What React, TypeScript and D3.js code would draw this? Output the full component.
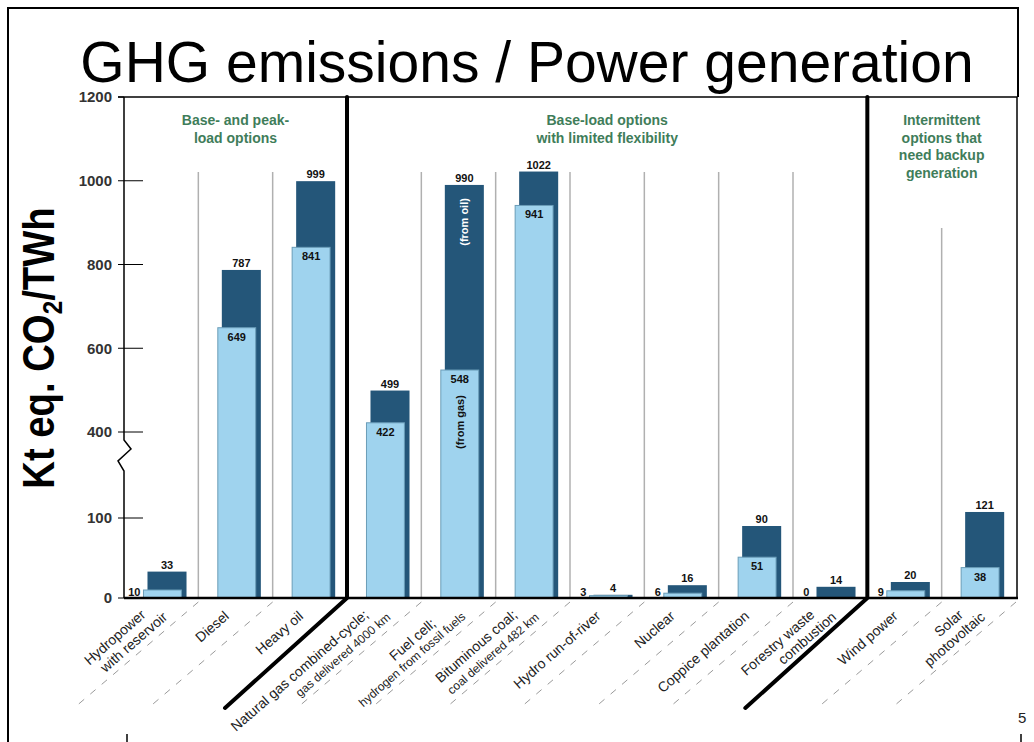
import * as d3 from 'd3'

// GHG emissions per power generation option (kt eq. CO2 / TWh)
const categories = [
  'Hydropower with reservoir',
  'Diesel',
  'Heavy oil',
  'Natural gas combined-cycle',
  'Fuel cell',
  'Bituminous coal',
  'Hydro run-of-river',
  'Nuclear',
  'Coppice plantation',
  'Forestry waste combustion',
  'Wind power',
  'Solar photovoltaic'
]
const lowValues = [10, 649, 841, 422, 548, 941, 3, 6, 51, 0, 9, 38]
const highValues = [33, 787, 999, 499, 990, 1022, 4, 16, 90, 14, 20, 121]

const xLabels = [
  ['Hydropower', 'with reservoir'],
  ['Diesel'],
  ['Heavy oil'],
  ['Natural gas combined-cycle;', 'gas delivered 4000 km'],
  ['Fuel cell;', 'hydrogen from fossil fuels'],
  ['Bituminous coal;', 'coal delivered 482 km'],
  ['Hydro run-of-river'],
  ['Nuclear'],
  ['Coppice plantation'],
  ['Forestry waste', 'combustion'],
  ['Wind power'],
  ['Solar', 'photovoltaic']
]
const smallSecondLine = [3, 4, 5]

const groupTitles = [
  ['Base- and peak-', 'load options'],
  ['Base-load options', 'with limited flexibility'],
  ['Intermittent', 'options that', 'need backup', 'generation']
]
const groupSpans = [[0, 3], [3, 10], [10, 12]]

const yTicks = [0, 100, 400, 600, 800, 1000, 1200]

const FONT = '"Liberation Sans", Arial, Helvetica, sans-serif'
const NARROW = '"Liberation Sans Narrow", "Arial Narrow", "Liberation Sans", Arial, sans-serif'
const DARK = '#245679'
const LIGHT = '#9fd3ee'
const GREEN = '#3f7d5a'

export default function App() {
  const width = 1034
  const height = 742
  const plotLeft = 124
  const plotRight = 1016
  const plotTop = 97
  const baseY = 598

  const x = d3.scaleBand().domain(categories).range([plotLeft, plotRight]).padding(0)
  // broken axis: 0-100 and 400-1200 with a compressed gap between
  const y = d3.scaleLinear().domain([0, 100, 400, 1200]).range([baseY, 518, 432, plotTop])
  const bw = x.bandwidth()

  const darkX = (i: number) => (x(categories[i]) as number) + bw * 0.316
  const darkW = bw * 0.525
  const lightX = (i: number) => (x(categories[i]) as number) + bw * 0.262
  const lightW = bw * 0.51

  const thick = [3, 10]
  const diag = [-122, 106]
  const ang = -41

  const breakY = y(400) + 8
  const axisPath = `M${plotLeft},${plotTop} V${breakY} L${plotLeft + 7},${breakY + 9} L${plotLeft - 6},${breakY + 21} L${plotLeft},${breakY + 31} V${baseY}`

  const boundaries = d3.range(1, categories.length).map(i => ({ i, bx: x(categories[i]) as number }))

  return (
    <svg width={width} height={height} style={{ position: 'absolute', left: 0, top: 0, background: '#fff' }} fontFamily={FONT}>
      {/* slide frame */}
      <path d={`M8,742 V8 H1018 V${plotTop}`} fill="none" stroke="#000" strokeWidth={2} />
      <line x1={127} x2={127} y1={734} y2={742} stroke="#000" strokeWidth={1.5} />
      <line x1={1021} x2={1021} y1={734} y2={742} stroke="#000" strokeWidth={1.5} />
      <text x={1018} y={723} fontSize={15} fill="#222">5</text>

      <text x={527} y={82} fontSize={57} textAnchor="middle" fill="#000">GHG emissions / Power generation</text>

      <text transform={`translate(54,348) rotate(-90) scale(0.87,1)`} fontSize={44} fontWeight="bold" textAnchor="middle" fill="#000">
        Kt eq. CO<tspan dy={8} fontSize={28}>2</tspan><tspan dy={-8}>/TWh</tspan>
      </text>

      {/* group titles */}
      {groupTitles.map((lines, g) => {
        const cx = plotLeft + ((groupSpans[g][0] + groupSpans[g][1]) / 2) * bw
        return (
          <g key={g}>
            {lines.map((t, k) => (
              <text key={k} x={cx} y={125 + k * 17.5} fontSize={14} fontWeight="bold" fill={GREEN} textAnchor="middle">{t}</text>
            ))}
          </g>
        )
      })}

      {/* thin separators */}
      {boundaries.filter(b => !thick.includes(b.i)).map(b => (
        <line key={b.i} x1={b.bx} x2={b.bx} y1={b.i >= 10 ? 228 : 172} y2={baseY} stroke="#b0b0b0" strokeWidth={1.5} />
      ))}

      {/* dashed diagonals under labels */}
      {[...boundaries.filter(b => !thick.includes(b.i)).map(b => b.bx), plotRight].map((bx, k) => (
        <line key={k} x1={bx} y1={baseY + 4} x2={bx + diag[0]} y2={baseY + 2 + diag[1]} stroke="#9a9a9a" strokeWidth={1} strokeDasharray="7 8" />
      ))}

      {/* bars */}
      {categories.map((c, i) => {
        const hv = highValues[i]
        const lv = lowValues[i]
        const dTop = y(hv)
        const lTop = y(lv)
        const lh = baseY - lTop
        const dCx = darkX(i) + darkW / 2
        const lCx = lightX(i) + lightW / 2
        return (
          <g key={c}>
            <rect x={darkX(i)} y={dTop} width={darkW} height={baseY - dTop} fill={DARK} />
            {lv > 0 && (
              <rect x={lightX(i)} y={lTop} width={lightW} height={lh} fill={LIGHT} stroke="#6b9db8" strokeWidth={1} />
            )}
            <text x={dCx} y={dTop - 3} fontSize={11} fontWeight="bold" fontFamily={NARROW} textAnchor="middle" fill="#111">{hv}</text>
            {lh >= 20 ? (
              <text x={lCx} y={lTop + 13} fontSize={11} fontWeight="bold" fontFamily={NARROW} textAnchor="middle" fill="#111">{lv}</text>
            ) : (
              <text x={lightX(i) - 3} y={baseY - 2} fontSize={11} fontWeight="bold" fontFamily={NARROW} textAnchor="end" fill="#111">{lv}</text>
            )}
            {i === 4 && (
              <>
                <text transform={`translate(${dCx + 4},${dTop + 37}) rotate(-90)`} fontSize={11} fontWeight="bold" fill="#fff" textAnchor="middle">(from oil)</text>
                <text transform={`translate(${lCx + 4},${lTop + 52}) rotate(-90)`} fontSize={11} fontWeight="bold" fill="#111" textAnchor="middle">(from gas)</text>
              </>
            )}
          </g>
        )
      })}

      {/* axes and frame of plot */}
      <path d={axisPath} fill="none" stroke="#000" strokeWidth={1.5} />
      <line x1={plotLeft - 6} x2={plotRight + 1} y1={plotTop} y2={plotTop} stroke="#000" strokeWidth={1.5} />
      <line x1={plotRight + 1} x2={plotRight + 1} y1={plotTop} y2={baseY} stroke="#000" strokeWidth={1.5} />
      <line x1={plotLeft} x2={plotRight + 2} y1={baseY} y2={baseY} stroke="#000" strokeWidth={2.5} />
      {yTicks.map(t => (
        <g key={t}>
          <line x1={plotLeft - 6} x2={t === 0 || t === 1200 ? plotLeft : plotLeft + 19} y1={y(t)} y2={y(t)} stroke="#000" strokeWidth={1} />
          <text x={plotLeft - 12} y={y(t)} dy="0.35em" fontSize={15} fontWeight="bold" fontFamily={NARROW} textAnchor="end" fill="#333">{t}</text>
        </g>
      ))}

      {/* thick group dividers */}
      {thick.map(i => {
        const bx = x(categories[i]) as number
        return (
          <path key={i} d={`M${bx},${plotTop} V${baseY} L${bx + diag[0]},${baseY + diag[1] + 4}`} fill="none" stroke="#000" strokeWidth={4} strokeLinejoin="round" strokeLinecap="round" />
        )
      })}

      {/* rotated category labels */}
      {xLabels.map((lines, i) => {
        const cx = (x(categories[i]) as number) + bw / 2
        const pos = lines.length === 1 ? [[-17, 11]] : i === 4 ? [[-34, 6], [-7, 20]] : [[-23, 4], [-8, 20]]
        return (
          <g key={i} transform={`translate(${cx},${baseY}) rotate(${ang})`}>
            {lines.map((t, k) => (
              <text key={k} x={pos[k][0]} y={pos[k][1]} fontSize={k === 1 && smallSecondLine.includes(i) ? 12 : 14} textAnchor="end" fill="#222">{t}</text>
            ))}
          </g>
        )
      })}
    </svg>
  )
}
